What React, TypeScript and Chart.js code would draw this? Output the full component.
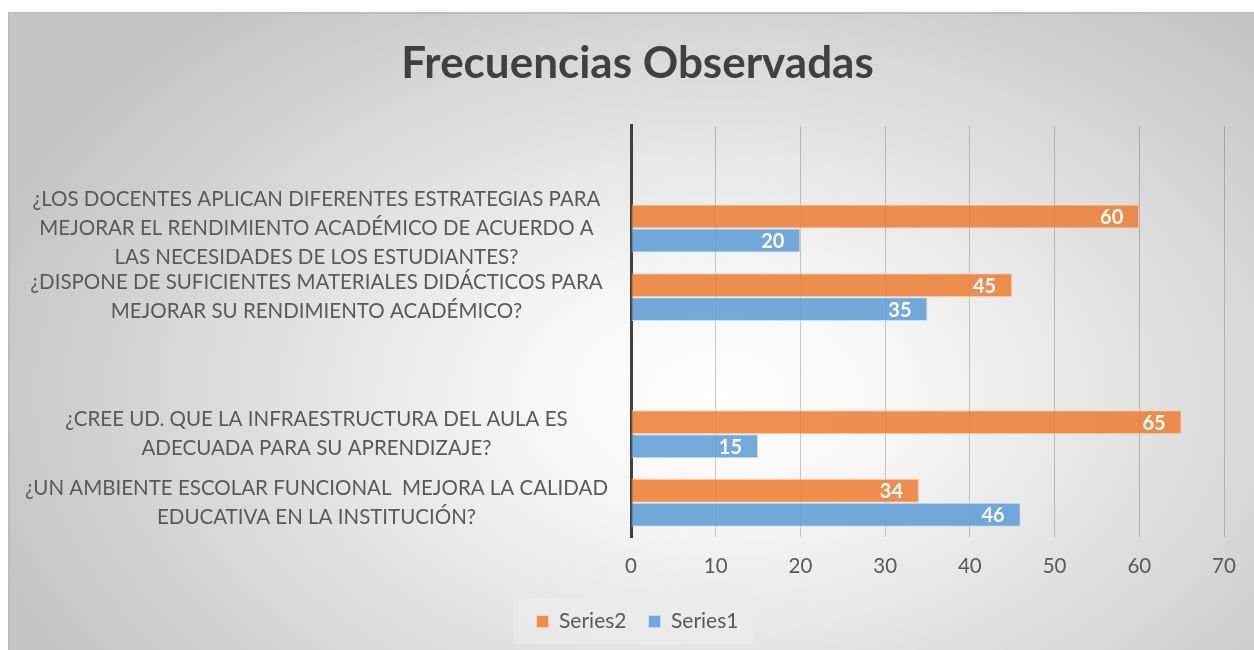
import React, { useEffect, useRef } from 'react';
import { Chart, registerables } from 'chart.js';

Chart.register(...registerables);

const categories: (string | string[])[] = [
  '',
  [
    '¿LOS DOCENTES APLICAN DIFERENTES ESTRATEGIAS PARA',
    'MEJORAR EL RENDIMIENTO ACADÉMICO DE ACUERDO A',
    'LAS NECESIDADES DE LOS ESTUDIANTES?',
  ],
  ['¿DISPONE DE SUFICIENTES MATERIALES DIDÁCTICOS PARA', 'MEJORAR SU RENDIMIENTO ACADÉMICO?'],
  '',
  ['¿CREE UD. QUE LA INFRAESTRUCTURA DEL AULA ES', 'ADECUADA PARA SU APRENDIZAJE?'],
  ['¿UN AMBIENTE ESCOLAR FUNCIONAL  MEJORA LA CALIDAD', 'EDUCATIVA EN LA INSTITUCIÓN?'],
];

const series2: (number | null)[] = [null, 60, 45, null, 65, 34];
const series1: (number | null)[] = [null, 20, 35, null, 15, 46];

const xMin = 0;
const xMax = 70;
const xStep = 10;

const FONT = 'Lato';
const TITLE_CENTER_X = 629.5;

const valueLabelPlugin = {
  id: 'valueLabels',
  afterDatasetsDraw(chart: any) {
    const ctx = chart.ctx;
    ctx.save();
    ctx.font = `bold 20px ${FONT}`;
    ctx.fillStyle = '#ffffff';
    ctx.textAlign = 'right';
    ctx.textBaseline = 'middle';
    chart.data.datasets.forEach((ds: any, di: number) => {
      const meta = chart.getDatasetMeta(di);
      meta.data.forEach((el: any, i: number) => {
        const v = ds.data[i];
        if (v === null || v === undefined) return;
        ctx.fillText(String(v), el.x - 16, el.y + 1);
      });
    });
    ctx.restore();
  },
};

const centerBoxesPlugin = {
  id: 'centerBoxes',
  afterLayout(chart: any) {
    [chart.titleBlock, chart.legend].forEach((b: any) => {
      if (!b) return;
      const dx = TITLE_CENTER_X - (b.left + b.right) / 2;
      b.left += dx;
      b.right += dx;
    });
  },
};

const legendBoxPlugin = {
  id: 'legendBox',
  beforeDraw(chart: any) {
    const lg = chart.legend;
    if (!lg || !lg.legendHitBoxes || !lg.legendHitBoxes.length) return;
    const hb = lg.legendHitBoxes;
    const first = hb[0];
    const last = hb[hb.length - 1];
    const left = first.left - 23;
    const right = last.left + last.width + 14;
    const cy = first.top + first.height / 2;
    const ctx = chart.ctx;
    ctx.save();
    ctx.fillStyle = 'rgba(236,236,236,0.6)';
    ctx.fillRect(left, cy - 23, right - left, 46);
    ctx.restore();
  },
};

function App() {
  const canvasRef = useRef<HTMLCanvasElement | null>(null);

  useEffect(() => {
    if (!canvasRef.current) return;
    const chart = new Chart(canvasRef.current, {
      type: 'bar',
      data: {
        labels: categories as any,
        datasets: [
          {
            label: 'Series2',
            data: series2,
            backgroundColor: 'rgba(237,125,49,0.85)',
            borderColor: 'rgba(250,210,180,0.9)',
            borderWidth: 1,
            categoryPercentage: 0.7,
            barPercentage: 1,
          },
          {
            label: 'Series1',
            data: series1,
            backgroundColor: 'rgba(91,155,213,0.85)',
            borderColor: 'rgba(200,222,242,0.9)',
            borderWidth: 1,
            categoryPercentage: 0.7,
            barPercentage: 1,
          },
        ],
      },
      options: {
        indexAxis: 'y',
        animation: false,
        responsive: true,
        maintainAspectRatio: false,
        layout: { padding: { left: 18, right: 30, top: 0, bottom: 8 } },
        scales: {
          x: {
            min: xMin,
            max: xMax,
            ticks: {
              stepSize: xStep,
              color: '#595959',
              font: { family: FONT, size: 20.5 },
              padding: 17,
            },
            grid: { color: 'rgba(0,0,0,0.2)', drawTicks: false },
            border: { display: false },
            afterFit(scale: any) {
              scale.height = 52;
            },
          },
          y: {
            ticks: {
              autoSkip: false,
              color: '#595959',
              font: { family: FONT, size: 20.5, lineHeight: 1.42 },
              padding: 23,
              crossAlign: 'center',
            },
            grid: { display: false, drawTicks: false },
            border: { display: true, color: '#404040', width: 3 },
            afterFit(scale: any) {
              scale.width = 605;
            },
          },
        },
        plugins: {
          title: {
            display: true,
            text: 'Frecuencias Observadas',
            color: '#404040',
            font: { family: FONT, size: 44, weight: 'bold' },
            padding: { top: 25, bottom: 36 },
          },
          legend: {
            position: 'bottom',
            labels: {
              color: '#595959',
              font: { family: FONT, size: 21 },
              boxWidth: 12,
              boxHeight: 12,
              padding: 22,
            },
          },
          tooltip: { enabled: false },
        },
      },
      plugins: [centerBoxesPlugin, legendBoxPlugin, valueLabelPlugin],
    });
    return () => chart.destroy();
  }, []);

  return (
    <div
      style={{
        position: 'absolute',
        left: 8,
        top: 12,
        width: 1246,
        height: 638,
        boxShadow: 'inset 2px 2px 0 #bdbdbd',
        background:
          'radial-gradient(ellipse 62% 78% at 57% 60%, #ffffff 0%, #f6f6f6 25%, #c4c4c4 100%)',
      }}
    >
      <canvas ref={canvasRef} />
    </div>
  );
}

export default App;
